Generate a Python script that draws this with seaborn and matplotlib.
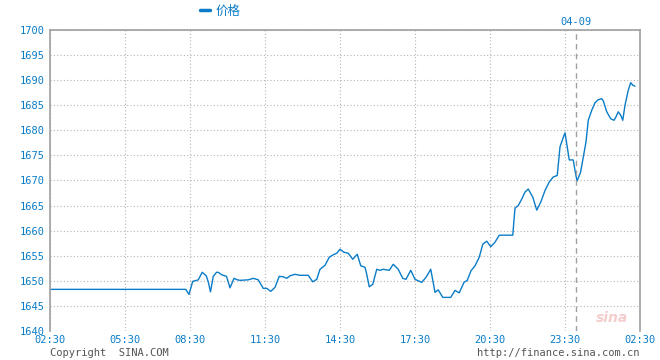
#!/usr/bin/env python3

import matplotlib
matplotlib.use("Agg")
import matplotlib.pyplot as plt
from matplotlib.lines import Line2D
import numpy as np
import pandas as pd
import seaborn as sns


""" price data, read off the sina chart """

# x = position along the time axis (1 unit = one tick-hour on screen)
t = [0.0, 5.43, 5.56, 5.71, 5.87, 5.93, 6.09, 6.25, 6.33, 6.42, 6.53, 6.66, 6.73,
     6.87, 7.06, 7.2, 7.36, 7.49, 7.6, 7.93, 8.13, 8.33, 8.53, 8.67, 8.83, 9.0,
     9.17, 9.33, 9.47, 9.6, 9.8, 10.0, 10.33, 10.51, 10.67, 10.8, 11.0, 11.17,
     11.33, 11.47, 11.6, 11.76, 11.93, 12.11, 12.29, 12.43, 12.6, 12.67, 12.77,
     12.91, 13.07, 13.2, 13.33, 13.57, 13.73, 13.93, 14.11, 14.24, 14.43, 14.6,
     14.87, 15.04, 15.23, 15.4, 15.53, 15.71, 16.03, 16.2, 16.37, 16.56, 16.69,
     16.84, 17.0, 17.17, 17.31, 17.47, 17.63, 17.8, 17.97, 18.51, 18.6, 18.73,
     18.87, 19.0, 19.13, 19.31, 19.47, 19.63, 19.8, 19.97, 20.13, 20.29, 20.4,
     20.51, 20.6, 20.68, 20.77, 20.93, 21.0, 21.08, 21.22, 21.33, 21.44, 21.53,
     21.67, 21.8, 21.93, 22.07, 22.13, 22.27, 22.43, 22.56, 22.64, 22.73, 22.83,
     22.91, 23.0, 23.13, 23.23, 23.31, 23.4]
price = [1648.3, 1648.3, 1647.3, 1649.9, 1650.1, 1650.2, 1651.7, 1651.0, 1649.8,
         1647.8, 1650.9, 1651.7, 1651.7, 1651.2, 1650.9, 1648.6, 1650.5, 1650.2,
         1650.1, 1650.2, 1650.5, 1650.2, 1648.5, 1648.5, 1647.9, 1648.7, 1650.9,
         1650.8, 1650.5, 1651.0, 1651.3, 1651.1, 1651.1, 1649.8, 1650.3, 1652.3,
         1653.1, 1654.7, 1655.2, 1655.5, 1656.3, 1655.7, 1655.5, 1654.3, 1655.3,
         1653.0, 1652.7, 1651.3, 1648.8, 1649.3, 1652.3, 1652.1, 1652.3, 1652.1,
         1653.3, 1652.3, 1650.5, 1650.3, 1652.1, 1650.3, 1649.7, 1650.7, 1652.3,
         1647.7, 1648.2, 1646.7, 1646.7, 1648.1, 1647.6, 1649.7, 1650.1, 1652.0,
         1653.0, 1654.7, 1657.3, 1657.9, 1656.8, 1657.7, 1659.1, 1659.1, 1664.5,
         1665.0, 1666.3, 1667.7, 1668.3, 1666.7, 1664.1, 1665.7, 1668.0, 1669.7,
         1670.7, 1671.0, 1676.7, 1678.3, 1679.5, 1677.0, 1674.1, 1674.1, 1672.0,
         1669.9, 1671.6, 1674.6, 1677.7, 1682.0, 1684.0, 1685.5, 1686.1, 1686.3,
         1685.9, 1683.7, 1682.3, 1682.0, 1682.7, 1683.7, 1683.0, 1682.0, 1685.0,
         1688.0, 1689.5, 1689.0, 1688.8]

x_ticks = [0, 3, 5.6, 8.6, 11.6, 14.6, 17.6, 20.6, 23.6]
x_labels = ["02:30", "05:30", "08:30", "11:30", "14:30", "17:30", "20:30", "23:30", "02:30"]
y_ticks = list(range(1640, 1701, 5))
day_break = 21.04
day_label = "04-09"
series_name = "价格"

df = pd.DataFrame({"t": t, "price": price})

""" draw """

sns.set_style("white")
plt.rcParams["font.family"] = ["DejaVu Sans Mono", "Noto Sans CJK SC"]

blue = "#0a7cc8"
grey = "#a0a0a0"

fig = plt.figure(figsize=(6.6, 3.6), dpi=100)
ax = fig.add_axes([50 / 660, 1 - 331 / 360, 590 / 660, 301 / 360])

sns.lineplot(data=df, x="t", y="price", ax=ax, color=blue, linewidth=1.0)

ax.set_xlim(0, 23.6)
ax.set_ylim(1640, 1700)
ax.set_xticks(x_ticks)
ax.set_xticklabels(x_labels)
ax.set_yticks(y_ticks)
ax.set_xlabel("")
ax.set_ylabel("")
ax.tick_params(axis="both", length=0, labelsize=7.5, labelcolor=blue)
ax.tick_params(axis="x", pad=3)
ax.tick_params(axis="y", pad=4)

ax.grid(True, color="#b4b4b4", linestyle=(0, (1, 2)), linewidth=0.8)
ax.axvline(day_break, color=grey, linestyle=(0, (4, 3)), linewidth=1.0)

for side in ["left", "top", "right"]:
    ax.spines[side].set_color(grey)
    ax.spines[side].set_linewidth(1.2)
ax.spines["bottom"].set_visible(False)

# legend on top
fig.add_artist(Line2D([200 / 660, 210 / 660], [1 - 10 / 360, 1 - 10 / 360],
                      color=blue, linewidth=2.5, transform=fig.transFigure))
fig.text(216 / 660, 1 - 11 / 360, series_name, color=blue, fontsize=9,
         va="center", ha="left", family=["Noto Sans CJK SC"])
ax.text(day_break, 1700.6, day_label, color=blue, fontsize=7.5,
        ha="center", va="bottom")

fig.text(50 / 660, 1 - 353 / 360, "Copyright  SINA.COM", color="#555555",
         fontsize=7.5, va="center", ha="left")
fig.text(640 / 660, 1 - 353 / 360, "http://finance.sina.com.cn", color="#555555",
         fontsize=7.5, va="center", ha="right")
fig.text(612 / 660, 1 - 318 / 360, "sina", color="#e07070", alpha=0.35,
         fontsize=10, style="italic", weight="bold", va="center", ha="center",
         family=["DejaVu Sans"])

fig.savefig("out.png", dpi=100)
